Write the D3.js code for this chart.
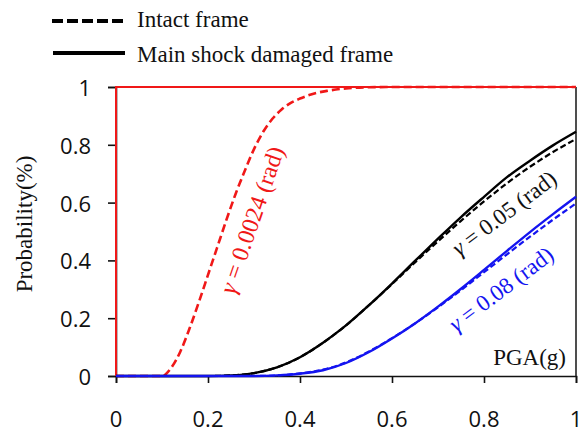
<!DOCTYPE html>
<html><head><meta charset="utf-8">
<script src="https://cdn.jsdelivr.net/npm/d3@7"></script>
<style>body{margin:0;background:#fff}svg{display:block}</style>
</head><body><svg id="c" width="583" height="432"></svg>
<script>
// ---- data ----
const xTicks = [0, 0.2, 0.4, 0.6, 0.8, 1];
const yTicks = [0, 0.2, 0.4, 0.6, 0.8, 1];
const xTickLabels = ["0", "0.2", "0.4", "0.6", "0.8", "1"];
const yTickLabels = ["0", "0.2", "0.4", "0.6", "0.8", "1"];

// gamma = 0.0024 rad
const redIntactX = [0, 0.10, 0.12, 0.14, 0.16, 0.18, 0.20, 0.22, 0.24, 0.26, 0.28, 0.30, 0.32, 0.34, 0.36, 0.38, 0.40, 0.42, 0.44, 0.46, 0.50, 0.55, 0.60, 1.0];
const redIntactY = [0, 0, 0.028, 0.085, 0.165, 0.255, 0.35, 0.445, 0.54, 0.63, 0.71, 0.785, 0.845, 0.89, 0.922, 0.945, 0.96, 0.972, 0.981, 0.987, 0.995, 0.999, 1, 1];
const redDamagedX = [0, 0, 1];
const redDamagedY = [0, 1, 1];

// gamma = 0.05 rad
const blackX = [0, 0.20, 0.25, 0.30, 0.35, 0.40, 0.45, 0.50, 0.55, 0.60, 0.65, 0.70, 0.75, 0.80, 0.85, 0.90, 0.95, 1.00];
const blackDamagedY = [0, 0, 0.002, 0.01, 0.03, 0.065, 0.115, 0.175, 0.245, 0.32, 0.398, 0.475, 0.55, 0.62, 0.688, 0.745, 0.798, 0.845];
const blackIntactY  = [0, 0, 0.002, 0.01, 0.03, 0.065, 0.115, 0.175, 0.245, 0.318, 0.393, 0.466, 0.537, 0.604, 0.667, 0.724, 0.775, 0.82];

// gamma = 0.08 rad
const blueX = [0, 0.30, 0.35, 0.40, 0.45, 0.50, 0.55, 0.60, 0.65, 0.70, 0.75, 0.80, 0.85, 0.90, 0.95, 1.00];
const blueDamagedY = [0, 0, 0.002, 0.008, 0.02, 0.045, 0.083, 0.13, 0.182, 0.24, 0.302, 0.367, 0.433, 0.498, 0.56, 0.62];
const blueIntactY  = [0, 0, 0.002, 0.009, 0.022, 0.047, 0.085, 0.131, 0.182, 0.238, 0.297, 0.359, 0.421, 0.482, 0.541, 0.597];

// ---- chart ----
const svg = d3.select("#c");
const x = d3.scaleLinear().domain([0, 1]).range([116, 576]);
const y = d3.scaleLinear().domain([0, 1]).range([376, 87]);
const RED = "#f01818", BLUE = "#1414f0", BLACK = "#000";
const SERIF = "'Liberation Serif', 'Times New Roman', serif";

// axes
const xAxis = svg.append("g").attr("transform", `translate(0,${y(0)})`)
  .call(d3.axisBottom(x).tickValues(xTicks).tickSize(7).tickFormat(""));
xAxis.select(".domain").attr("stroke", "#111").attr("stroke-width", 1.6);
xAxis.selectAll(".tick line").attr("stroke", "#111").attr("stroke-width", 1.6);

const yAxis = svg.append("g").attr("transform", `translate(${x(0)},0)`)
  .call(d3.axisLeft(y).tickValues(yTicks).tickSize(8).tickFormat(""));
yAxis.select(".domain").attr("stroke", "#111").attr("stroke-width", 1.6);
yAxis.selectAll(".tick line").attr("stroke", "#111").attr("stroke-width", 1.6);

svg.append("line").attr("x1", x(1)).attr("x2", x(1)).attr("y1", y(0)).attr("y2", y(1))
  .attr("stroke", "#222").attr("stroke-width", 1.6);

// tick labels
svg.append("g").selectAll("text").data(xTicks).join("text")
  .attr("x", d => x(d)).attr("y", 418).attr("text-anchor", "middle")
  .attr("dominant-baseline", "central")
  .attr("font-family", "'Open Sans', sans-serif").attr("font-size", 22).attr("fill", "#111")
  .text((d, i) => xTickLabels[i]);
svg.append("g").selectAll("text").data(yTicks).join("text")
  .attr("x", 91).attr("y", d => y(d)).attr("text-anchor", "end")
  .attr("dominant-baseline", "central")
  .attr("font-family", "'Open Sans', sans-serif").attr("font-size", 22).attr("fill", "#111")
  .text((d, i) => yTickLabels[i]);

// axis titles
svg.append("text").attr("transform", "translate(32,224) rotate(-90)")
  .attr("text-anchor", "middle").attr("font-family", SERIF)
  .attr("font-size", 23).attr("fill", "#111").text("Probability(%)");
svg.append("text").attr("x", 566).attr("y", 365).attr("text-anchor", "end")
  .attr("font-family", SERIF)
  .attr("font-size", 23).attr("fill", "#111").text("PGA(g)");

// lines
const mk = (xs, ys) => xs.map((v, i) => [v, ys[i]]);
const lineS = d3.line().x(d => x(d[0])).y(d => y(d[1])).curve(d3.curveMonotoneX);
const lineL = d3.line().x(d => x(d[0])).y(d => y(d[1]));

svg.append("path").attr("d", lineL(mk(redDamagedX, redDamagedY)))
  .attr("fill", "none").attr("stroke", RED).attr("stroke-width", 2);
svg.append("path").attr("d", lineS(mk(redIntactX, redIntactY)))
  .attr("fill", "none").attr("stroke", RED).attr("stroke-width", 2.6).attr("stroke-dasharray", "8,4");

svg.append("path").attr("d", lineS(mk(blackX, blackIntactY)))
  .attr("fill", "none").attr("stroke", BLACK).attr("stroke-width", 2.2).attr("stroke-dasharray", "6,3");
svg.append("path").attr("d", lineS(mk(blackX, blackDamagedY)))
  .attr("fill", "none").attr("stroke", BLACK).attr("stroke-width", 2.4);

svg.append("path").attr("d", lineS(mk(blueX, blueIntactY)))
  .attr("fill", "none").attr("stroke", BLUE).attr("stroke-width", 2.2).attr("stroke-dasharray", "6,3");
svg.append("path").attr("d", lineS(mk(blueX, blueDamagedY)))
  .attr("fill", "none").attr("stroke", BLUE).attr("stroke-width", 2.4);

// curve annotations
function ann(cx, cy, ang, color, size, rest) {
  const t = svg.append("text")
    .attr("transform", `translate(${cx},${cy}) rotate(${ang})`)
    .attr("text-anchor", "middle").attr("dominant-baseline", "central")
    .attr("font-family", SERIF)
    .attr("font-size", size).attr("fill", color);
  t.append("tspan").attr("font-style", "italic").text("γ");
  t.append("tspan").text(rest);
}
ann(252, 220, -71, RED, 24, " = 0.0024 (rad)");
ann(504, 213, -37, "#111", 23, " = 0.05 (rad)");
ann(501, 289, -37, BLUE, 23, " = 0.08 (rad)");

// legend
svg.append("line").attr("x1", 52).attr("x2", 124).attr("y1", 21).attr("y2", 21)
  .attr("stroke", BLACK).attr("stroke-width", 4).attr("stroke-dasharray", "11,4");
svg.append("line").attr("x1", 53).attr("x2", 125).attr("y1", 53).attr("y2", 53)
  .attr("stroke", BLACK).attr("stroke-width", 4);
svg.append("text").attr("x", 137).attr("y", 27)
  .attr("font-family", SERIF)
  .attr("font-size", 23).attr("fill", "#111").text("Intact frame");
svg.append("text").attr("x", 137).attr("y", 62)
  .attr("font-family", SERIF)
  .attr("font-size", 23).attr("fill", "#111").text("Main shock damaged frame");
</script></body></html>
